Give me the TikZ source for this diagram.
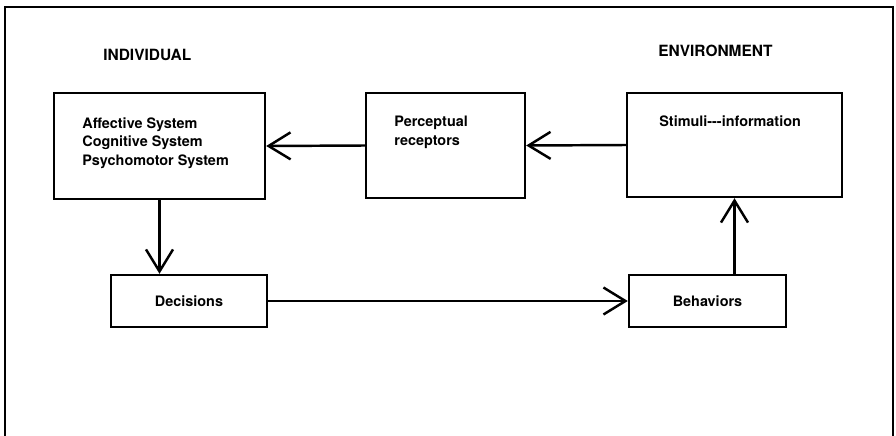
\documentclass[tikz,border=0pt]{standalone}
\usepackage{fontspec}
\setmainfont{TeX Gyre Heros}
\usetikzlibrary{arrows.meta}

\begin{document}
\begin{tikzpicture}[x=0.02cm, y=-0.02cm,
        box/.style={draw, line width=1.4pt, inner sep=0pt},
        txt/.style={inner sep=0pt, anchor=north west, align=left,
            font=\fontsize{8.2}{10.6}\selectfont\bfseries},
        head/.style={inner sep=0pt, anchor=north west,
            font=\fontsize{8.8}{10}\selectfont\bfseries},
        flow/.style={line width=1.4pt, -{Straight Barb[length=4.4mm, width=5.4mm]}}]
            \useasboundingbox (0, 0) rectangle (896, 436);
            \draw[line width=1.2pt] (5, 436) -- (5, 7) -- (893, 7) -- (893, 436);

            \node[head] (hind) at (103, 49) {INDIVIDUAL};
            \node[head] (henv) at (658, 45) {ENVIRONMENT};

            \node[box, minimum width=4.22cm, minimum height=2.12cm] (aff) at (159.5, 146) {};
            \node[box, minimum width=3.18cm, minimum height=2.10cm] (perc) at (445.5, 145.5) {};
            \node[box, minimum width=4.30cm, minimum height=2.08cm] (stim) at (734.5, 145) {};
            \node[box, minimum width=3.12cm, minimum height=1.04cm, font=\fontsize{8.2}{10}\selectfont\bfseries] (dec) at (189, 301) {Decisions};
            \node[box, minimum width=3.14cm, minimum height=1.04cm, font=\fontsize{8.2}{10}\selectfont\bfseries] (beh) at (707.5, 301) {Behaviors};

            \node[txt] (afftxt) at (82, 117) {Affective System\\Cognitive System\\Psychomotor System};
            \node[txt] (perctxt) at (394, 116) {Perceptual\\receptors};
            \node[txt] (stimtxt) at (659, 115) {Stimuli-{}-{}-information};

            \draw[flow] (stim.west) -- (perc.east);
            \draw[flow] (perc.west) -- (aff.east);
            \draw[flow] (aff.south) -- (aff.south |- dec.north);
            \draw[flow] (dec.east) -- (beh.west);
            \draw[flow] (beh.north -| stim.south) -- (stim.south);
    	\end{tikzpicture}
\end{document}
